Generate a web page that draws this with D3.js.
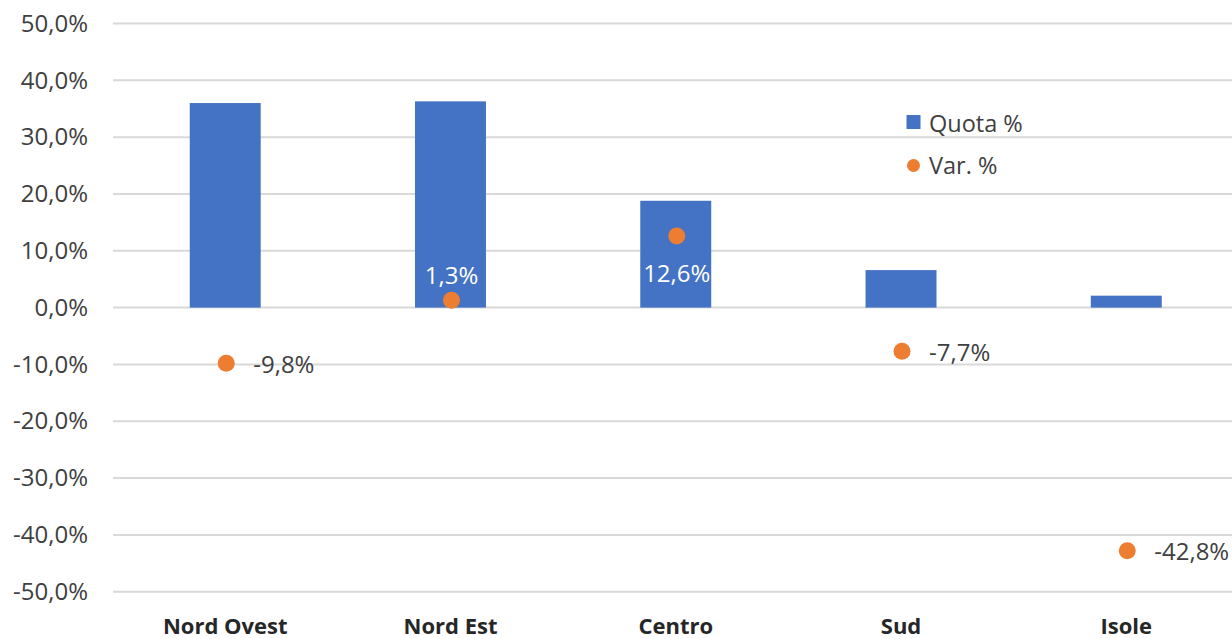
<!DOCTYPE html>
<html>
<head>
<meta charset="utf-8">
<script src="https://cdn.jsdelivr.net/npm/d3@7"></script>
<style>
  html, body { margin: 0; padding: 0; background: #fff; }
  svg { display: block; }
</style>
</head>
<body>
<svg id="chart" width="1232" height="639"></svg>
<script>
const categories = ["Nord Ovest", "Nord Est", "Centro", "Sud", "Isole"];
const quota = [36.0, 36.3, 18.8, 6.6, 2.1];
const variazione = [-9.8, 1.3, 12.6, -7.7, -42.8];
const yTicks = [50, 40, 30, 20, 10, 0, -10, -20, -30, -40, -50];
const labelPlacement = ["right", "above", "below", "right", "right"];
const seriesNames = ["Quota %", "Var. %"];

const W = 1232, H = 639;
const svg = d3.select("#chart");
const font = "'Open Sans', 'Noto Sans', sans-serif";
const barColor = "#4472C4", dotColor = "#ED7D31", textColor = "#404040";

const fmt = v => d3.format(".1f")(v).replace("\u2212", "-").replace(".", ",") + "%";

const y = d3.scaleLinear().domain([-50, 50]).range([591.7, 23.5]);
const x = d3.scaleBand().domain(categories).range([112.6, 1238.9])
  .paddingInner(0.685).paddingOuter(0.3425);

// gridlines
svg.append("g").selectAll("line").data(yTicks).join("line")
  .attr("x1", 113).attr("x2", W)
  .attr("y1", d => y(d)).attr("y2", d => y(d))
  .attr("stroke", "#d9d9d9").attr("stroke-width", 2);

// y axis labels
const yAxis = d3.axisLeft(y).tickValues(yTicks).tickFormat(fmt).tickSize(0).tickPadding(0);
const gy = svg.append("g").attr("transform", "translate(88,0)").call(yAxis);
gy.select(".domain").remove();
gy.selectAll("text").attr("font-family", font).attr("font-size", 24).attr("fill", textColor);

// x axis labels
const xAxis = d3.axisBottom(x).tickSize(0).tickPadding(0);
const gx = svg.append("g").attr("transform", "translate(0,611)").call(xAxis);
gx.select(".domain").remove();
gx.selectAll("text").attr("font-family", font).attr("font-size", 22).attr("font-weight", "bold")
  .attr("fill", "#262626").attr("dy", "0.71em").attr("y", 7);

// bars
svg.append("g").selectAll("rect").data(categories).join("rect")
  .attr("x", d => x(d)).attr("width", x.bandwidth())
  .attr("y", (d, i) => y(Math.max(0, quota[i])))
  .attr("height", (d, i) => Math.abs(y(quota[i]) - y(0)))
  .attr("fill", barColor);

// dots
const cx = d => x(d) + x.bandwidth() / 2 + 1;
svg.append("g").selectAll("circle").data(categories).join("circle")
  .attr("cx", cx).attr("cy", (d, i) => y(variazione[i]))
  .attr("r", 8.5).attr("fill", dotColor);

// labels
svg.append("g").selectAll("text").data(categories).join("text")
  .attr("font-family", font).attr("font-size", 24)
  .attr("dominant-baseline", "central")
  .attr("fill", (d, i) => labelPlacement[i] === "right" ? textColor : "#ffffff")
  .attr("text-anchor", (d, i) => labelPlacement[i] === "right" ? "start" : "middle")
  .attr("x", (d, i) => labelPlacement[i] === "right" ? cx(d) + 27 : cx(d))
  .attr("y", (d, i) => {
    const p = labelPlacement[i], v = y(variazione[i]);
    return p === "above" ? v - 26 : p === "below" ? v + 36 : v;
  })
  .text((d, i) => fmt(variazione[i]));

// legend
const lg = svg.append("g");
lg.append("rect").attr("x", 906.5).attr("y", 115).attr("width", 14).attr("height", 14).attr("fill", barColor);
lg.append("circle").attr("cx", 913.5).attr("cy", 165.5).attr("r", 6.5).attr("fill", dotColor);
lg.selectAll("text").data(seriesNames).join("text")
  .attr("x", 929).attr("y", (d, i) => i === 0 ? 122.5 : 165)
  .attr("dominant-baseline", "central")
  .attr("font-family", font).attr("font-size", 23.5).attr("fill", textColor)
  .text(d => d);
</script>
</body>
</html>
